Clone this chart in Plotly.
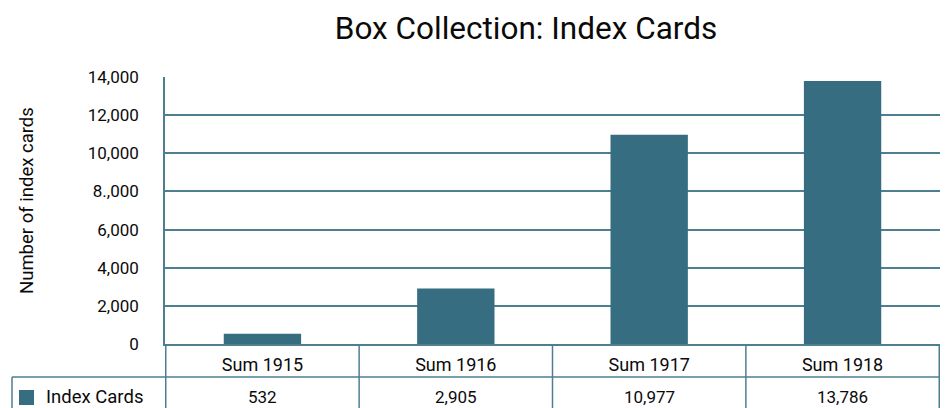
import plotly.graph_objects as go

categories = ["Sum 1915", "Sum 1916", "Sum 1917", "Sum 1918"]
index_cards = [532, 2905, 10977, 13786]
series_name = "Index Cards"
tick_vals = [0, 2000, 4000, 6000, 8000, 10000, 12000, 14000]
tick_text = ["0", "2,000", "4,000", "6,000", "8.,000", "10,000", "12,000", "14,000"]

W, H = 945, 408
L, R, T, B = 165, 5, 77, 64
pw, ph = W - L - R, H - T - B

def px_x(x):
    return (x - L) / pw

def px_y(y):
    return (H - B - y) / ph

BAR = "#366d81"
LINE = "#4d7f91"
FONT = "Roboto"
TXT = "#0a0a0a"

fig = go.Figure()
fig.add_trace(go.Bar(x=categories, y=index_cards, name=series_name,
                     marker=dict(color=BAR, line=dict(width=0)),
                     showlegend=False, hoverinfo="skip"))

shapes = []
for i in range(len(categories) + 1):
    shapes.append(dict(type="line", xref="x", yref="paper",
                       x0=i - 0.5, x1=i - 0.5, y0=0, y1=px_y(412),
                       line=dict(color=LINE, width=1.5)))
shapes.append(dict(type="line", xref="paper", yref="paper",
                   x0=px_x(12), x1=1, y0=px_y(377), y1=px_y(377),
                   line=dict(color=LINE, width=1.5)))
shapes.append(dict(type="line", xref="paper", yref="paper",
                   x0=px_x(12), x1=px_x(12), y0=px_y(377), y1=px_y(412),
                   line=dict(color=LINE, width=1.5)))
shapes.append(dict(type="rect", xref="paper", yref="paper",
                   x0=px_x(19), x1=px_x(34), y0=px_y(405), y1=px_y(390),
                   fillcolor=BAR, line=dict(width=0)))

annotations = []
for c, v in zip(categories, index_cards):
    annotations.append(dict(x=c, xref="x", y=px_y(397), yref="paper",
                            text=f"{v:,}", showarrow=False, yanchor="middle",
                            font=dict(family=FONT, size=17, color=TXT)))
annotations.append(dict(x=px_x(44), xref="paper", y=px_y(397), yref="paper",
                        text=series_name, showarrow=False, xanchor="left",
                        yanchor="middle",
                        font=dict(family=FONT, size=18.5, color=TXT)))
annotations.append(dict(x=px_x(27), xref="paper", y=px_y(201), yref="paper",
                        text="Number of index cards", showarrow=False,
                        textangle=-90, xanchor="center", yanchor="middle",
                        font=dict(family=FONT, size=18.5, color=TXT)))

fig.update_layout(
    width=W, height=H,
    margin=dict(l=L, r=R, t=T, b=B),
    paper_bgcolor="white", plot_bgcolor="white",
    bargap=0.6,
    title=dict(text="Box Collection: Index Cards", x=526 / W, xanchor="center",
               y=1 - 28 / H, yanchor="middle",
               font=dict(family=FONT, size=31.5, color=TXT)),
    font=dict(family=FONT, size=17, color=TXT),
    shapes=shapes,
    annotations=annotations,
)
fig.update_xaxes(showline=True, linecolor=LINE, linewidth=1.5,
                 showgrid=False, ticks="", ticklabelstandoff=4,
                 tickfont=dict(family=FONT, size=18, color=TXT))
fig.update_yaxes(range=[0, 14000], tickvals=tick_vals, ticktext=tick_text,
                 showgrid=True, gridcolor=LINE, gridwidth=1.5,
                 showline=True, linecolor=LINE, linewidth=1.5,
                 zeroline=False, ticks="", ticklabelstandoff=21,
                 tickfont=dict(family=FONT, size=17, color=TXT))

fig.write_html("out.html", config={"displayModeBar": False},
               post_script="document.body.style.margin='0';document.body.style.overflow='hidden';")
